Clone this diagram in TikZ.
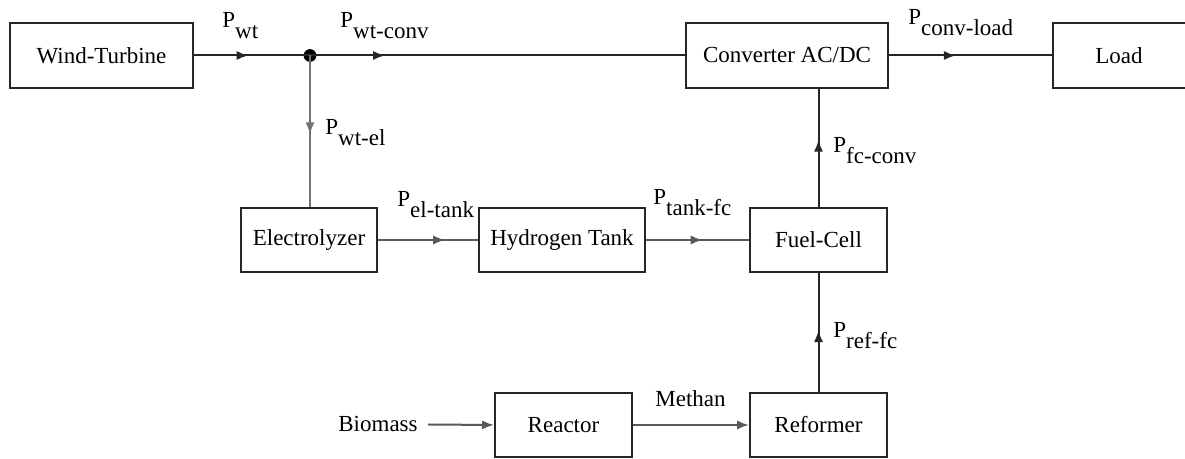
\documentclass[tikz,border=0pt]{standalone}
\usepackage{fontspec}
\setmainfont{Liberation Serif}
\usetikzlibrary{arrows.meta,decorations.markings}

\newcommand{\pwr}[1]{P\raisebox{-5.5pt}{#1}}

\begin{document}
\begin{tikzpicture}[x=0.5pt,y=-0.5pt,
		font=\fontsize{11.5}{14}\selectfont,
		blk/.style={draw=black!85, line width=1pt, minimum height=32.5pt, inner sep=0pt},
		lbl/.style={anchor=base west, inner sep=0pt},
		wire/.style={draw=black!85, line width=1pt},
		mid/.style={wire, postaction={decorate},
			decoration={markings, mark=at position #1 with {\arrow{Latex[length=6pt,width=4.6pt]}}}},
		tip/.style={wire, -{Latex[length=6pt,width=4.6pt]}}]
		\useasboundingbox (0,0) rectangle (1185,459);

		\draw (101.5,55.5) node [blk, minimum width=91.5pt] (wt) {Wind-Turbine};
		\draw (787,55.5) node [blk, minimum width=101pt] (conv) {Converter AC/DC};
		\draw (1124,55.5) node [blk, minimum width=71pt] (load) {\hspace*{-5pt}Load};
		\draw (309,240) node [blk, minimum width=68pt, minimum height=32pt] (elec) {Electrolyzer};
		\draw (562,240) node [blk, minimum width=83pt, minimum height=32pt] (tank) {Hydrogen Tank};
		\draw (818.5,240) node [blk, minimum width=68.5pt, minimum height=32pt] (fc) {Fuel-Cell};
		\draw (563.5,425) node [blk, minimum width=68.5pt, minimum height=32pt] (reac) {Reactor};
		\draw (818.5,425) node [blk, minimum width=68.5pt, minimum height=32pt] (ref) {Reformer};
		\draw (338,432) node [lbl] (bio) {Biomass};

		\coordinate (j) at (310,55.5);
		\fill (j) circle (3.2pt);

		\draw [mid=0.47] (wt.east) -- (j);
		\draw [mid=0.2] (j) -- (conv.west);
		\draw [mid=0.41] (conv.east) -- (load.west);
		\draw [mid=0.52, draw=black!55] (j) -- (j |- elec.north);
		\draw [mid=0.67, draw=black!65] (elec.east) -- (tank.west);
		\draw [mid=0.55, draw=black!65] (tank.east) -- (fc.west);
		\draw [mid=0.57] (fc.north) -- (fc.north |- conv.south);
		\draw [mid=0.52] (ref.north) -- (fc.south);
		\draw [tip, draw=black!65] ([xshift=5pt]bio.east) -- (reac.west);
		\draw [tip, draw=black!65] (reac.east) -- (ref.west);

		\draw (222,28) node [lbl] (lwt) {\pwr{wt}};
		\draw (340,28) node [lbl] (lwtconv) {\pwr{wt-conv}};
		\draw (908,25) node [lbl] (lconvload) {\pwr{conv-load}};
		\draw (325,135) node [lbl] (lwtel) {\pwr{wt-el}};
		\draw (397,207) node [lbl] (leltank) {\pwr{el-tank}};
		\draw (653,205) node [lbl] (ltankfc) {\pwr{tank-fc}};
		\draw (833,153) node [lbl] (lfcconv) {\pwr{fc-conv}};
		\draw (833,338) node [lbl] (lreffc) {\pwr{ref-fc}};
		\draw (655,407) node [lbl] (lmethan) {Methan};
	\end{tikzpicture}
\end{document}
